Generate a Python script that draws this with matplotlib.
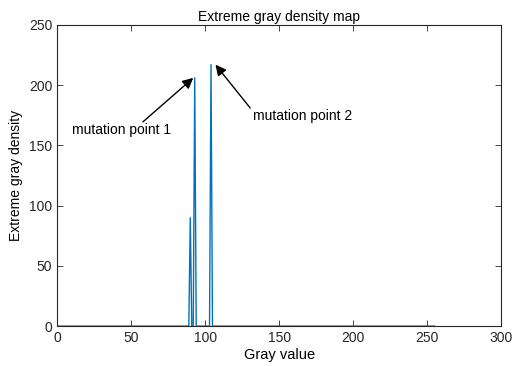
import numpy as np
import matplotlib
matplotlib.use("Agg")
import matplotlib.pyplot as plt

plt.rcParams['font.family'] = ['Liberation Sans', 'DejaVu Sans']

# gray levels 0..255, nonzero only at a few spikes
gray = np.arange(0, 256)
spike_pos = [90, 93, 104]
spike_val = [90, 206, 217]
density = np.zeros(256)
for p, v in zip(spike_pos, spike_val):
    density[p] = v

fig = plt.figure(figsize=(5.14, 3.66), dpi=100)
ax = fig.add_axes([0.111, 0.109, 0.864, 0.823])
ax.plot(gray, density, color='#0072BD', lw=1.0)

ax.set_xlim(0, 300)
ax.set_ylim(0, 250)
ax.set_xticks(np.arange(0, 301, 50))
ax.set_yticks(np.arange(0, 251, 50))
ax.tick_params(direction='in', top=True, right=True, labelsize=10, length=4, width=0.6, colors='#262626')
for s in ax.spines.values():
    s.set_linewidth(0.8)
    s.set_color('#262626')

ax.set_title('Extreme gray density map', fontsize=10, pad=3)
ax.set_xlabel('Gray value', fontsize=10.5, labelpad=2)
ax.set_ylabel('Extreme gray density', fontsize=10, labelpad=4)

arrow = dict(arrowstyle='-|>', color='black', lw=1.0, mutation_scale=16, shrinkA=0, shrinkB=0)
ax.text(10, 163, 'mutation point 1', fontsize=10, va='center', ha='left')
ax.annotate('', xy=(92, 206), xytext=(58, 169.5), arrowprops=arrow)
ax.text(132.5, 174.5, 'mutation point 2', fontsize=10, va='center', ha='left')
ax.annotate('', xy=(107, 217), xytext=(130.5, 181), arrowprops=arrow)

fig.savefig('out.png', dpi=100)
